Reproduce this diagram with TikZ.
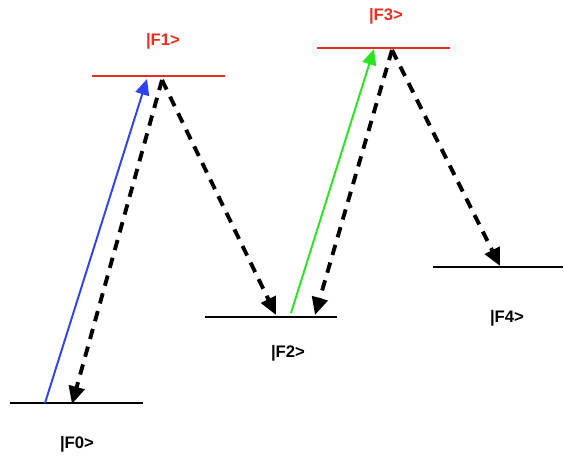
\documentclass[tikz,border=0pt]{standalone}
\usepackage{fontspec}
\setmainfont{Liberation Sans}
\usepackage{tikz}
\usetikzlibrary{arrows.meta, positioning, calc}
\definecolor{levelred}{RGB}{235,45,30}
\definecolor{pumpblue}{RGB}{45,65,250}
\definecolor{pumpgreen}{RGB}{40,230,30}

\begin{document}
\begin{tikzpicture}[
    x=0.02cm, y=-0.02cm,
    level/.style={line width=1.6pt, black},
    uplevel/.style={level, draw=levelred},
    lbl/.style={font=\fontsize{9.5}{11}\selectfont\bfseries, inner sep=0pt},
    uplbl/.style={lbl, text=levelred},
    pump/.style={-{Triangle[length=9pt, width=8pt]}, line width=1.1pt},
    decay/.style={-{Triangle[length=10pt, width=9pt]}, line width=2.2pt, dash pattern=on 6pt off 4.5pt},
  ]
  \useasboundingbox (0,0) rectangle (564,457);
  % energy levels
  \coordinate (l0a) at (10,403);  \coordinate (l0b) at (143,403);
  \coordinate (l1a) at (92,76);   \coordinate (l1b) at (225,76);
  \coordinate (l2a) at (205,317); \coordinate (l2b) at (337,317);
  \coordinate (l3a) at (317,48);  \coordinate (l3b) at (450,48);
  \coordinate (l4a) at (433,267); \coordinate (l4b) at (563,267);
  \draw[level] (l0a) -- (l0b);
  \draw[uplevel] (l1a) -- (l1b);
  \draw[level] (l2a) -- (l2b);
  \draw[uplevel] (l3a) -- (l3b);
  \draw[level] (l4a) -- (l4b);
  \node[lbl] (f0) at (77,444) {|F0>};
  \node[uplbl] (f1) at (163,41) {|F1>};
  \node[lbl] (f2) at (288,353) {|F2>};
  \node[uplbl] (f3) at (386,16) {|F3>};
  \node[lbl] (f4) at (507,318) {|F4>};
  % arrow ends
  \coordinate (p0) at (45,403);  \coordinate (p1) at (147,79);
  \coordinate (p2) at (291,313); \coordinate (p3) at (374,49);
  \coordinate (d1) at (162,80);  \coordinate (d0) at (72,404);
  \coordinate (d2) at (276,315); \coordinate (d3) at (392,50);
  \coordinate (d2b) at (315,315); \coordinate (d4) at (500,266);
  \draw[pump, pumpblue] (p0) -- (p1);
  \draw[pump, pumpgreen] (p2) -- (p3);
  \foreach \a/\b in {d1/d0,d1/d2,d3/d2b,d3/d4}
    \draw[decay] (\a) -- (\b);
\end{tikzpicture}
\end{document}
